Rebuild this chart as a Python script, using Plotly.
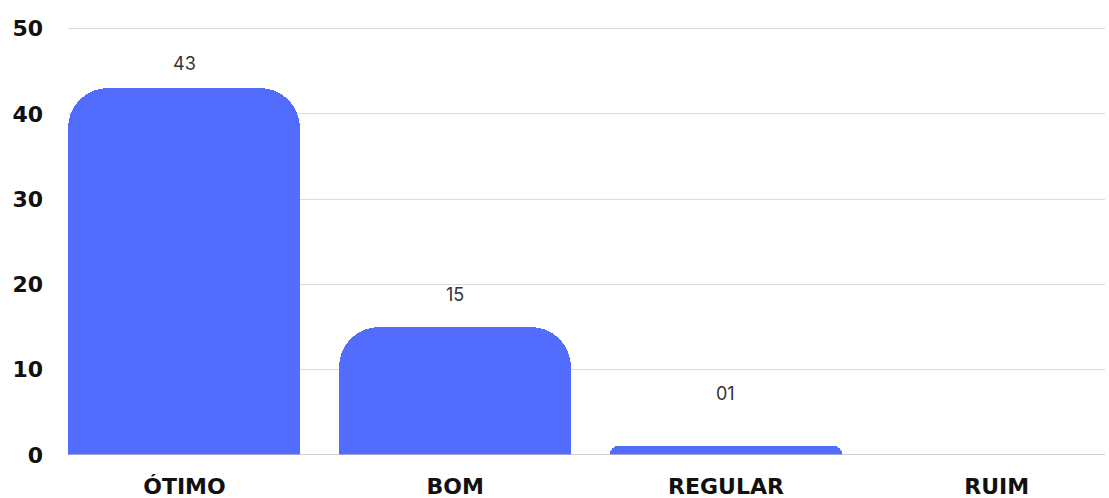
import plotly.graph_objects as go

categories = ["ÓTIMO", "BOM", "REGULAR", "RUIM"]
values = [43, 15, 1, 0]
value_labels = ["43", "15", "01", ""]
y_ticks = [0, 10, 20, 30, 40, 50]

# pixel offsets of each value label above its bar top (style)
label_offsets = [25, 33, 53, 0]

xs = list(range(len(categories)))

fig = go.Figure()
fig.add_trace(go.Bar(
    x=xs, y=values, width=0.857,
    marker=dict(color="#526DFD", cornerradius=40, line=dict(width=0)),
    hoverinfo="skip",
))

for x, v, t, off in zip(xs, values, value_labels, label_offsets):
    if t:
        fig.add_annotation(x=x, y=v, text=t, showarrow=False, yanchor="middle",
                           yshift=off, font=dict(family="Inter", size=18, color="#333"))

fig.update_layout(
    width=1109, height=498,
    margin=dict(l=68, r=4, t=20, b=43, autoexpand=False),
    paper_bgcolor="white", plot_bgcolor="white",
    showlegend=False,
    bargap=0,
)
fig.update_xaxes(
    range=[-0.43, 3.40], tickvals=xs, ticktext=categories,
    showgrid=False, zeroline=False, showline=False, ticks="",
    tickfont=dict(family="DejaVu Sans", size=22, color="#111", weight="bold"),
    ticklabelstandoff=16, automargin=False,
)
fig.update_yaxes(
    range=[0, 51], tickvals=y_ticks,
    showgrid=True, gridcolor="#dcdcdc", gridwidth=1,
    zeroline=False, showline=False, ticks="",
    tickfont=dict(family="DejaVu Sans", size=22, color="#111", weight="bold"),
    ticklabelstandoff=24, automargin=False,
)
fig.add_shape(type="line", xref="paper", yref="y", x0=0, x1=1, y0=0, y1=0,
              line=dict(color="#bbbbbb", width=1.5), layer="above")

fig.write_html("out.html")
